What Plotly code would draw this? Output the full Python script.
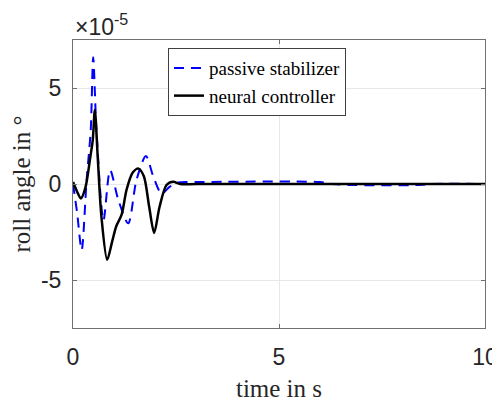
import plotly.graph_objects as go

# time in s
t_neural = [0, 0.1, 0.19, 0.3, 0.42, 0.48, 0.53, 0.6, 0.69, 0.83, 0.95, 1.05, 1.18, 1.3, 1.45, 1.59, 1.72, 1.85, 1.97, 2.1, 2.27, 2.43, 2.6, 3.0, 10.0]
y_neural = [0.1, -0.4, -0.75, -0.2, 1.4, 2.3, 3.85, 1.4, -1.7, -3.95, -3.0, -2.2, -1.6, -0.3, 0.6, 0.8, 0.4, -1.2, -2.55, -1.2, -0.05, 0.12, 0.0, 0.0, 0.0]

t_passive = [0, 0.1, 0.21, 0.33, 0.43, 0.49, 0.57, 0.74, 0.9, 1.1, 1.34, 1.54, 1.77, 1.95, 2.15, 2.35, 2.55, 3.0, 6.0, 6.3, 6.7, 8.4, 8.7, 10.0]
y_passive = [0.0, -1.5, -3.44, 0.2, 2.8, 6.6, 2.8, -1.9, 0.73, -0.83, -2.05, 0.2, 1.46, 0.38, -0.5, -0.14, 0.08, 0.1, 0.1, 0.0, -0.05, -0.05, 0.0, 0.0]

x_ticks = [0, 5, 10]
y_ticks = [-5, 0, 5]

SERIF = "Liberation Serif"
SANS = "Liberation Sans"

fig = go.Figure()
fig.add_trace(go.Scatter(
    x=t_passive, y=y_passive, mode="lines", name="passive stabilizer",
    line=dict(color="#0000ff", width=2, dash="10px,7px", shape="spline", smoothing=0.8)))
fig.add_trace(go.Scatter(
    x=t_neural, y=y_neural, mode="lines", name="neural controller",
    line=dict(color="#000000", width=2.5, shape="spline", smoothing=0.8)))

axis_common = dict(
    showline=True, linecolor="#707070", linewidth=1, mirror="ticks",
    ticks="inside", ticklen=4, tickcolor="#707070",
    showgrid=True, gridcolor="#e8e8e8", gridwidth=1, zeroline=False,
    tickfont=dict(family=SANS, size=23, color="#262626"),
    automargin=False,
)

# page body has an 8px default margin, so the figure is sized to fit the 500x403 window
fig.update_layout(
    width=492, height=395,
    margin=dict(l=65, r=15, t=32, b=75),
    paper_bgcolor="white", plot_bgcolor="white",
    xaxis=dict(range=[0, 10], tickvals=x_ticks, ticktext=[str(v) for v in x_ticks],
               ticklabelstandoff=8,
               title=dict(text="time in s", font=dict(family=SERIF, size=25, color="#262626"), standoff=10),
               **axis_common),
    yaxis=dict(range=[-7.5, 7.5], tickvals=y_ticks, ticktext=[str(v) for v in y_ticks],
               ticklabelstandoff=6,
               title=dict(text="roll angle in °", font=dict(family=SERIF, size=25, color="#262626"), standoff=4),
               **axis_common),
    legend=dict(x=0.2306, y=0.972, xanchor="left", yanchor="top",
                bgcolor="white", bordercolor="#404040", borderwidth=1,
                font=dict(family=SERIF, size=19, color="#000000"),
                tracegroupgap=0),
    showlegend=True,
)

fig.add_annotation(xref="paper", yref="paper", x=0.0, y=1.0, xanchor="left", yanchor="bottom",
                   xshift=0, yshift=-2,
                   text="×10<sup>-5</sup>", showarrow=False,
                   font=dict(family=SANS, size=23, color="#262626"))

fig.write_html("out.html")
